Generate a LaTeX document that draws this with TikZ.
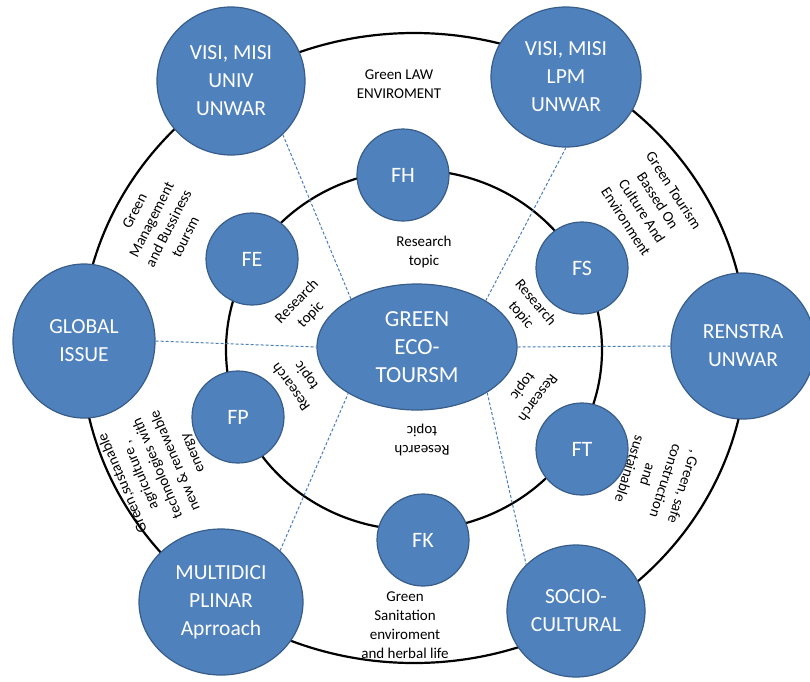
\documentclass[tikz,border=0pt]{standalone}
\usepackage{fontspec}
\setmainfont{Carlito}
\usetikzlibrary{shapes.geometric}
\definecolor{cfill}{HTML}{4F81BD}
\definecolor{cborder}{HTML}{385D8A}
\definecolor{cdash}{HTML}{4A7EBB}
\begin{document}
\begin{tikzpicture}[x=1pt,y=-1pt,
  ring/.style={ellipse, draw=black, line width=2.2pt, inner sep=0pt},
  big/.style={ellipse, fill=cfill, draw=cborder, line width=1.2pt, text=white, align=center, inner sep=0pt, font=\fontsize{21.5}{28}\selectfont},
  small/.style={ellipse, fill=cfill, draw=cborder, line width=1.2pt, text=white, align=center, inner sep=0pt, minimum width=92pt, minimum height=92pt, font=\fontsize{22}{28}\selectfont},
  lbl/.style={align=center, inner sep=0pt, text=black, font=\fontsize{15}{19}\selectfont},
  conn/.style={draw=cdash, line width=1pt, dash pattern=on 3pt off 2pt}]
\useasboundingbox (0,0) rectangle (810,681);
% rings
\node[ring, minimum width=666pt, minimum height=630pt] (outer) at (414,348) {};
\node[ring, minimum width=376pt, minimum height=360pt] (inner) at (414,350) {};
% centre
\node[big, minimum width=200pt, minimum height=126pt, font=\fontsize{23}{28}\selectfont] (eco) at (417,347) {GREEN\\ECO-\\TOURSM};
% big circles
\node[big, minimum width=148pt, minimum height=148pt] (visiU) at (231,81) {VISI, MISI\\UNIV\\UNWAR};
\node[big, minimum width=150pt, minimum height=140pt] (visiL) at (566,77) {VISI, MISI\\LPM\\UNWAR};
\node[big, minimum width=142pt, minimum height=154pt] (glob) at (84,341) {GLOBAL\\ISSUE};
\node[big, minimum width=144pt, minimum height=146pt] (ren) at (743,346) {RENSTRA\\UNWAR};
\node[big, minimum width=164pt, minimum height=146pt] (multi) at (221,602) {MULTIDICI\\PLINAR\\Aprroach};
\node[big, minimum width=138pt, minimum height=132pt] (socio) at (576,611) {SOCIO-\\CULTURAL};
% small circles
\node[small] (fh) at (403,175) {FH};
\node[small] (fe) at (252,259) {FE};
\node[small] (fs) at (582,268) {FS};
\node[small] (fp) at (238,417) {FP};
\node[small] (ft) at (582,449) {FT};
\node[small] (fk) at (423,540) {FK};
% dashed connectors
\draw[conn] (visiU.-46) -- (eco.144);
\draw[conn] (visiL.-90) -- (eco.34);
\draw[conn] (glob.east) -- (eco.west);
\draw[conn] (eco.east) -- (ren.west);
\draw[conn] (multi.41) -- (eco.214);
\draw[conn] (eco.-33) -- (socio.137);
% outer ring labels
\node[lbl] (tLaw) at (399,84) {Green LAW\\ENVIROMENT};
\node[lbl, rotate=63] (tMgmt) at (160,224) {Green\\Management\\and Bussiness\\toursm};
\node[lbl, rotate=-57] (tCult) at (650,206) {Green Tourism\\Bassed On\\Culture And\\Environment};
\node[lbl, rotate=113] (tAgri) at (158,468) {Green,sustanable\\agriculture ,\\technologies with\\new \& renewable\\energy};
\node[lbl, rotate=-108] (tCons) at (657,478) {, Green, safe\\construction\\and\\sustainable};
\node[lbl] (tSan) at (405,625) {Green\\Sanitation\\enviroment\\and herbal life};
% research topic labels
\node[lbl] (r1) at (424,252) {Research\\topic};
\node[lbl, rotate=46] (r2) at (304,308) {Research\\topic};
\node[lbl, rotate=-50] (r3) at (528,309) {Research\\topic};
\node[lbl, rotate=126] (r4) at (299,381) {Research\\topic};
\node[lbl, rotate=-127] (r5) at (530,392) {Research\\topic};
\node[lbl, rotate=180] (r6) at (422,440) {Research\\topic};
\end{tikzpicture}
\end{document}
